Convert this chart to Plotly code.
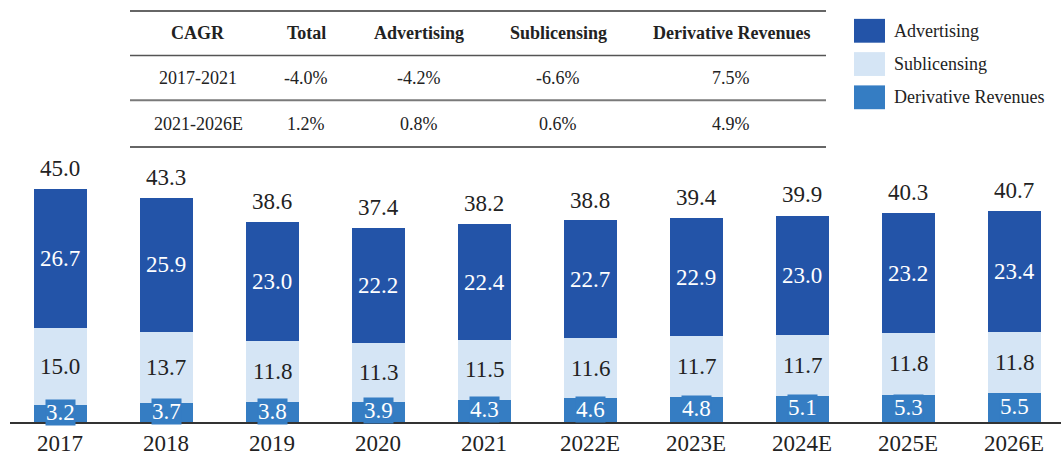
import plotly.graph_objects as go

years = ["2017", "2018", "2019", "2020", "2021", "2022E", "2023E", "2024E", "2025E", "2026E"]
advertising = [26.7, 25.9, 23.0, 22.2, 22.4, 22.7, 22.9, 23.0, 23.2, 23.4]
sublicensing = [15.0, 13.7, 11.8, 11.3, 11.5, 11.6, 11.7, 11.7, 11.8, 11.8]
derivative = [3.2, 3.7, 3.8, 3.9, 4.3, 4.6, 4.8, 5.1, 5.3, 5.5]
totals = [45.0, 43.3, 38.6, 37.4, 38.2, 38.8, 39.4, 39.9, 40.3, 40.7]

table_header = ["CAGR", "Total", "Advertising", "Sublicensing", "Derivative Revenues"]
table_rows = [
    ["2017-2021", "-4.0%", "-4.2%", "-6.6%", "7.5%"],
    ["2021-2026E", "1.2%", "0.8%", "0.6%", "4.9%"],
]

C_ADV = "#2354A8"
C_SUB = "#D5E5F5"
C_DER = "#357DC3"
FONT = "Liberation Serif"
TXT = "#222222"

W, H = 1061, 456
ML, MR, MT, MB = 10, 0, 0, 31
PXU = 5.22  # pixels per unit
plot_w = W - ML - MR
plot_h = H - MT - MB
x = list(range(len(years)))

fig = go.Figure()
for name, vals, col in [("Derivative Revenues", derivative, C_DER),
                        ("Sublicensing", sublicensing, C_SUB),
                        ("Advertising", advertising, C_ADV)]:
    fig.add_trace(go.Bar(x=x, y=vals, name=name, marker=dict(color=col, line=dict(width=0)),
                         width=0.5, showlegend=False, hoverinfo="skip"))

ann = []
for i in x:
    d, s, a, t = derivative[i], sublicensing[i], advertising[i], totals[i]
    ann.append(dict(x=i, y=d / 2, text=f"{d:.1f}", showarrow=False, xref="x", yref="y",
                    xanchor="center", yanchor="middle",
                    font=dict(family=FONT, size=23, color="white"), bgcolor=C_DER,
                    borderpad=0, yshift=1))
    ann.append(dict(x=i, y=d + s / 2, text=f"{s:.1f}", showarrow=False, xref="x", yref="y",
                    xanchor="center", yanchor="middle",
                    font=dict(family=FONT, size=23, color=TXT)))
    ann.append(dict(x=i, y=d + s + a / 2, text=f"{a:.1f}", showarrow=False, xref="x", yref="y",
                    xanchor="center", yanchor="middle",
                    font=dict(family=FONT, size=23, color="white")))
    ann.append(dict(x=i, y=t, text=f"{t:.1f}", showarrow=False, xref="x", yref="y",
                    xanchor="center", yanchor="bottom", yshift=6,
                    font=dict(family=FONT, size=23, color=TXT)))


def px(xp):
    return (xp - ML) / plot_w


def py(yp):
    return 1 - (yp - MT) / plot_h


# CAGR table
col_x = [198, 306, 419, 558, 731]
for j, h in enumerate(table_header):
    ann.append(dict(x=px(col_x[j]), y=py(33), xref="paper", yref="paper", showarrow=False,
                    xanchor="center", yanchor="middle",
                    text=f"<b>{h}</b>", font=dict(family=FONT, size=18, color=TXT)))
for r, row in enumerate(table_rows):
    yy = [79, 125][r]
    for j, v in enumerate(row):
        ann.append(dict(x=px(col_x[j]), y=py(yy), xref="paper", yref="paper", showarrow=False,
                        xanchor="center", yanchor="middle",
                        text=v, font=dict(family=FONT, size=18, color=TXT)))

shapes = []
for yy, col, wdt in [(11, "#333333", 1.5), (56, "#555555", 1.5), (101, "#7a7a7a", 2), (148, "#333333", 1.5)]:
    shapes.append(dict(type="line", xref="paper", yref="paper", x0=px(130), x1=px(826),
                       y0=py(yy), y1=py(yy), line=dict(color=col, width=wdt)))

# legend
leg = [("Advertising", C_ADV), ("Sublicensing", C_SUB), ("Derivative Revenues", C_DER)]
for k, (nm, col) in enumerate(leg):
    y0 = 19 + k * 33.5
    shapes.append(dict(type="rect", xref="paper", yref="paper", x0=px(854), x1=px(885),
                       y0=py(y0 + 24), y1=py(y0), fillcolor=col, line=dict(width=0)))
    ann.append(dict(x=px(892), y=py(y0 + 12), xref="paper", yref="paper", showarrow=False,
                    xanchor="left", yanchor="middle", text=nm,
                    font=dict(family=FONT, size=18, color=TXT)))

fig.update_layout(
    width=W, height=H, barmode="stack", plot_bgcolor="white", paper_bgcolor="white",
    margin=dict(l=ML, r=MR, t=MT, b=MB), annotations=ann, shapes=shapes, showlegend=False,
    xaxis=dict(tickmode="array", tickvals=x, ticktext=years, range=[-50 / 106, (1061 - 60) / 106],
               showgrid=False, zeroline=False, showline=True, linecolor="#333333", linewidth=1.5,
               ticks="", tickfont=dict(family=FONT, size=23, color=TXT)),
    yaxis=dict(range=[0, plot_h / PXU], visible=False, showgrid=False, zeroline=False),
)
fig.write_html("out.html", config={"displayModeBar": False},
               post_script="document.body.style.margin='0px';document.body.style.overflow='hidden';")
